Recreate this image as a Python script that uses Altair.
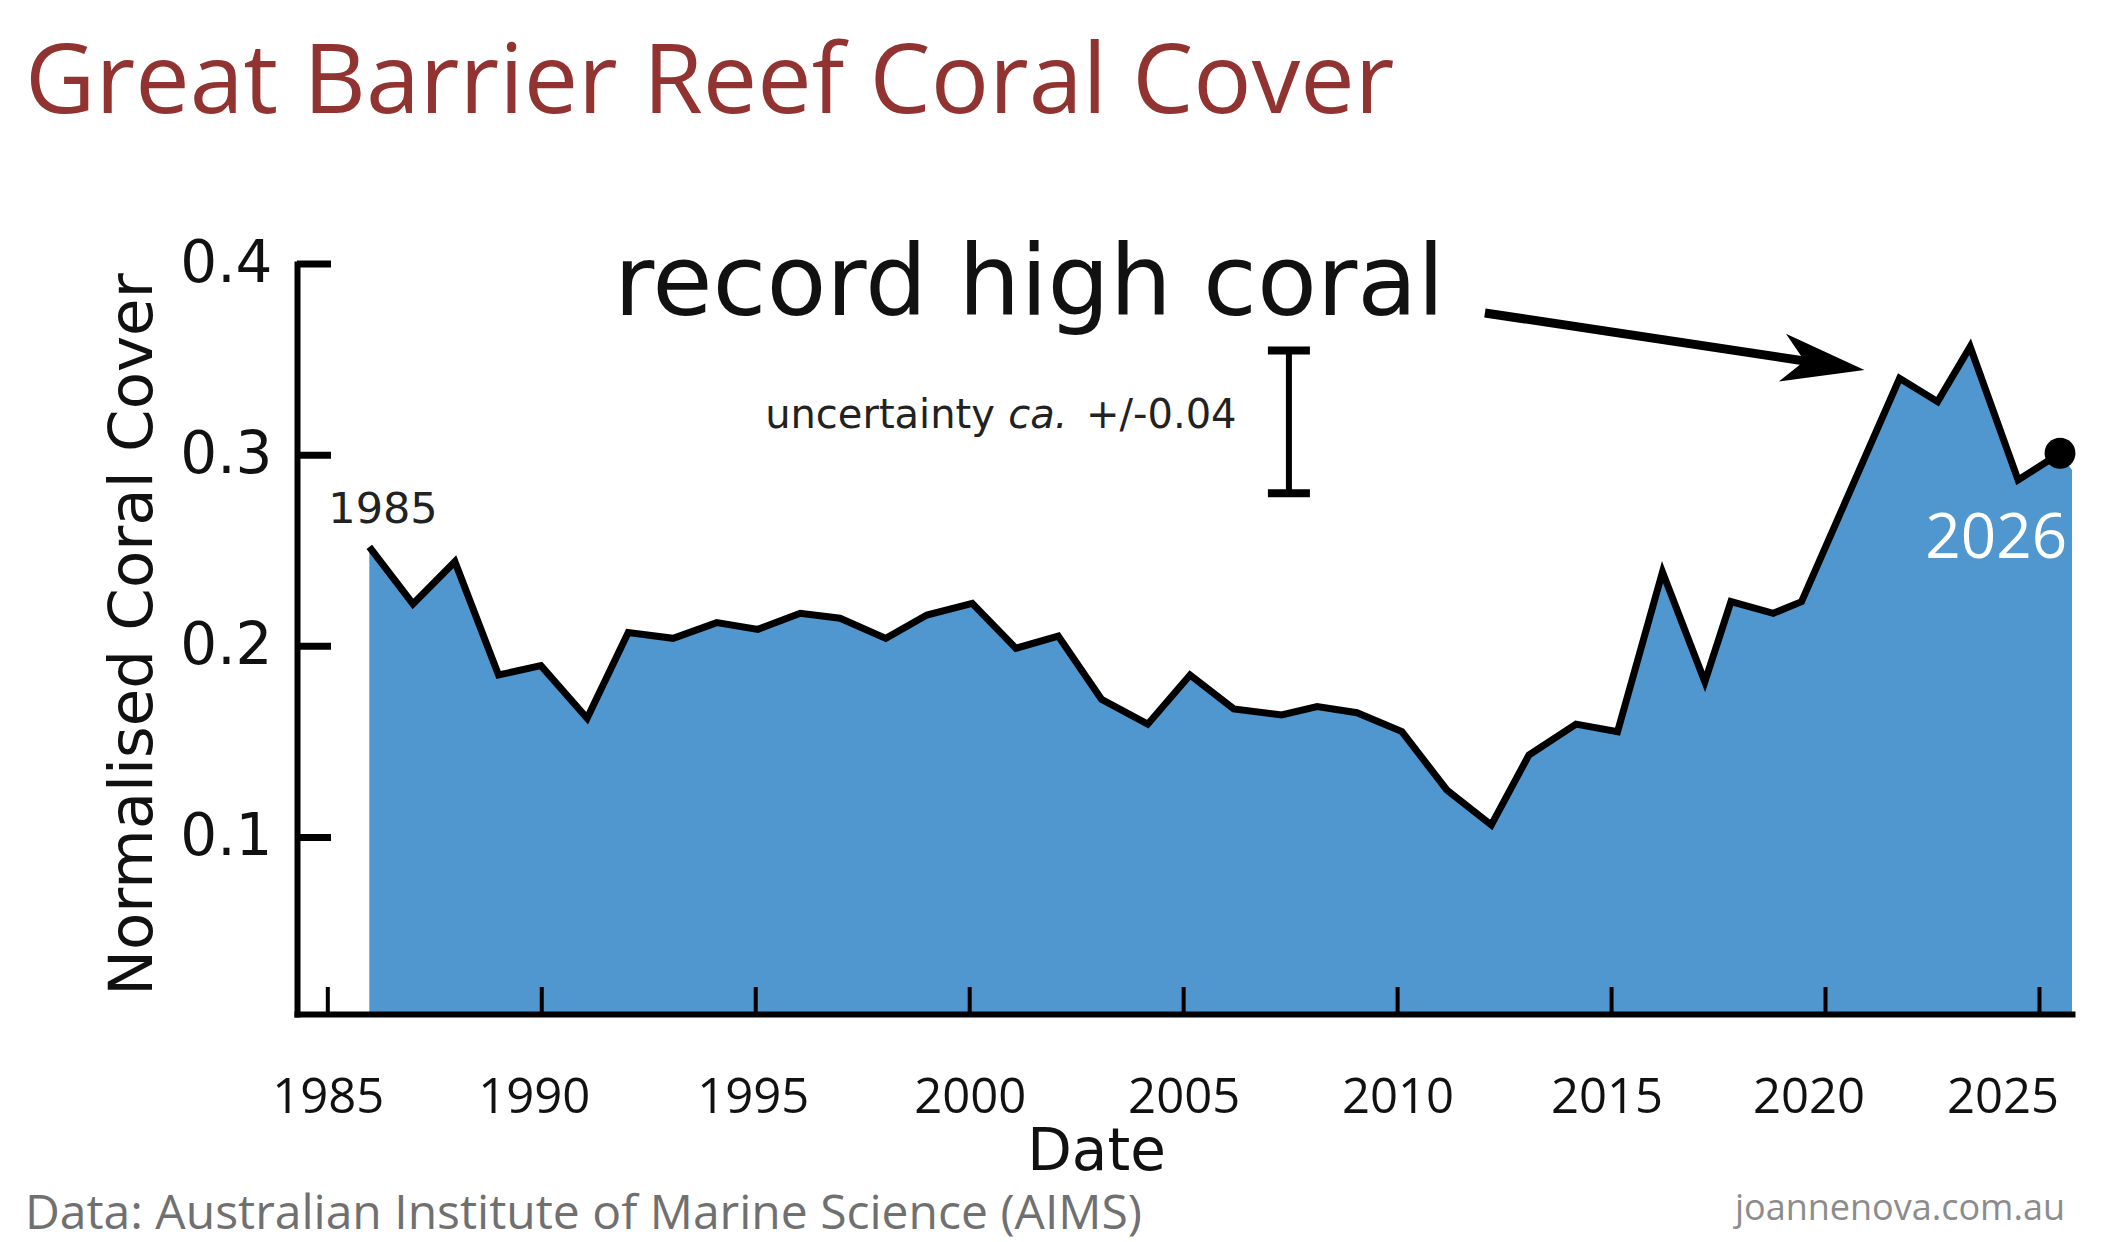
import math
import altair as alt
import pandas as pd

# ---------------- data ----------------
year = [1985.97, 1986.99, 1987.97, 1988.99, 1989.98, 1991.06, 1992.02, 1993.07, 1994.09, 1995.05,
        1996.04, 1996.97, 1998.04, 1999.00, 2000.06, 2001.08, 2002.07, 2003.08, 2004.16, 2005.15,
        2006.17, 2007.29, 2008.12, 2009.05, 2010.10, 2011.15, 2012.19, 2013.07, 2014.17, 2015.14,
        2016.19, 2017.18, 2017.79, 2018.78, 2019.44, 2021.73, 2022.62, 2023.38, 2024.50, 2025.48]
cover = [0.2521, 0.2222, 0.2443, 0.1850, 0.1899, 0.1624, 0.2072, 0.2042, 0.2124, 0.2089,
         0.2173, 0.2147, 0.2042, 0.2164, 0.2225, 0.1990, 0.2054, 0.1723, 0.1593, 0.1850,
         0.1673, 0.1641, 0.1685, 0.1653, 0.1554, 0.1249, 0.1066, 0.1432, 0.1593, 0.1554,
         0.2389, 0.1815, 0.2234, 0.2173, 0.2234, 0.3402, 0.3280, 0.3567, 0.2870, 0.3010]
area_end_year = [2025.76]
area_end_cover = [0.2923]

x_ticks = [1985, 1990, 1995, 2000, 2005, 2010, 2015, 2020, 2025]
y_ticks = [0.1, 0.2, 0.3, 0.4]

# uncertainty bar (centre and half-width)
err_year = [2007.46]
err_center = [0.3174]
err_half = [0.0373]

# arrow (start, tip) in data units
arrow_year = [2012.04, 2020.91]
arrow_cover = [0.3744, 0.3446]

# text annotations anchored in data units
ann_record = ("record high coral", 1991.69, 0.3733)
ann_unc1 = ("uncertainty", 1995.22, 0.3141)
ann_unc2 = ("ca.", 2000.90, 0.3141)
ann_unc3 = ("+/-0.04", 2002.72, 0.3141)
ann_start = ("1985", 1986.29, 0.2646)
ann_end = ("2026", 2023.99, 0.2462)

TITLE = "Great Barrier Reef Coral Cover"
SOURCE = "Data: Australian Institute of Marine Science (AIMS)"
WATERMARK = "joannenova.com.au"

# ---------------- layout / style ----------------
XMIN, XMAX = 1984.28, 2025.76
YMIN, YMAX = 0.0077, 0.4
W, H = 1775, 750
BLUE = "#5096CF"
INK = "#111111"

# small horizontal nudges of some year labels, as in the reference
label_nudge = {1990: -8, 1995: -3, 2015: -5, 2020: -17, 2025: -37}
x_label_offset = {
    "condition": [{"test": f"datum.value == {k}", "value": v} for k, v in label_nudge.items()],
    "value": 0,
}

xs = alt.Scale(domain=[XMIN, XMAX], nice=False, zero=False)
ys = alt.Scale(domain=[YMIN, YMAX], nice=False, zero=False)

x_axis = alt.Axis(values=x_ticks, format="d", ticks=False, tickSize=0, grid=False,
                  labelFont="Open Sans", labelFontSize=49, labelColor=INK,
                  labelPadding=98, labelBaseline="alphabetic", labelFlush=False,
                  labelOverlap=False, labelOffset=x_label_offset,
                  domainColor="black", domainWidth=6, domainCap="square",
                  title="Date", titleFont="DejaVu Sans", titleFontSize=58,
                  titleFontWeight="normal", titleColor=INK, titleX=799, titleY=155,
                  titleAlign="center", titleBaseline="alphabetic", zindex=1)
y_axis = alt.Axis(values=y_ticks, format=".1f", ticks=False, tickSize=0, grid=False,
                  labelFont="DejaVu Sans", labelFontSize=58, labelColor=INK,
                  labelPadding=25, labelFlush=False, labelOverlap=False,
                  domainColor="black", domainWidth=6, domainCap="square",
                  title="Normalised Coral Cover", titleFont="DejaVu Sans", titleFontSize=61,
                  titleFontWeight="normal", titleColor=INK, titleX=-146, titleY=370,
                  titleAngle=270, titleAlign="center", titleBaseline="alphabetic", zindex=1)


def X(field):
    return alt.X(field, scale=xs, axis=x_axis)


def Y(field):
    return alt.Y(field, scale=ys, axis=y_axis)


series = pd.DataFrame({"year": year, "cover": cover})
area_df = pd.DataFrame({"year": year + area_end_year, "cover": cover + area_end_cover})

area = alt.Chart(area_df).mark_area(color=BLUE, opacity=1, clip=True).encode(
    x=X("year:Q"), y=Y("cover:Q"))

line = alt.Chart(series).mark_line(color="black", strokeWidth=7, strokeJoin="miter",
                                   strokeMiterLimit=6).encode(x=X("year:Q"), y=Y("cover:Q"))

last = pd.DataFrame({"year": year[-1:], "cover": cover[-1:]})
dot = alt.Chart(last).mark_circle(size=950, color="black", opacity=1).encode(
    x=X("year:Q"), y=Y("cover:Q"))

ytick_marks = alt.Chart(pd.DataFrame({"cover": y_ticks})).mark_rule(color="black", strokeWidth=7).encode(
    y=Y("cover:Q"), x=alt.value(0), x2=alt.value(34))
xtick_marks = alt.Chart(pd.DataFrame({"year": x_ticks})).mark_rule(color="black", strokeWidth=4).encode(
    x=X("year:Q"), y=alt.value(H), y2=alt.value(H - 27))

err_df = pd.DataFrame({"year": err_year, "cover": [c - h for c, h in zip(err_center, err_half)],
                       "hi": [c + h for c, h in zip(err_center, err_half)]})
err_rule = alt.Chart(err_df).mark_rule(color="black", strokeWidth=6).encode(
    x=X("year:Q"), y=Y("cover:Q"), y2="hi:Q")
caps_df = pd.DataFrame({"year": err_year * 2, "cover": list(err_df["cover"]) + list(err_df["hi"])})
err_caps = alt.Chart(caps_df).mark_tick(orient="horizontal", size=42, thickness=8,
                                        color="black", opacity=1).encode(
    x=X("year:Q"), y=Y("cover:Q"))

# arrow
px_year = W / (XMAX - XMIN)
px_unit = H / (YMAX - YMIN)
ang = math.degrees(math.atan2((arrow_cover[0] - arrow_cover[1]) * px_unit,
                              (arrow_year[1] - arrow_year[0]) * px_year))
shaft_df = pd.DataFrame({"year": [arrow_year[0]], "cover": [arrow_cover[0]],
                         "x2": [arrow_year[0] + 0.9 * (arrow_year[1] - arrow_year[0])],
                         "y2": [arrow_cover[0] + 0.9 * (arrow_cover[1] - arrow_cover[0])]})
shaft = alt.Chart(shaft_df).mark_rule(color="black", strokeWidth=9).encode(
    x=X("year:Q"), y=Y("cover:Q"), x2="x2:Q", y2="y2:Q")
head_df = pd.DataFrame({"year": [arrow_year[1]], "cover": [arrow_cover[1]]})
head = alt.Chart(head_df).mark_point(shape="M0,0L-1,-0.29L-0.73,0L-1,0.29Z", filled=True,
                                     size=27556, angle=ang, color="black", opacity=1,
                                     strokeWidth=0).encode(x=X("year:Q"), y=Y("cover:Q"))


def ann(a, **kw):
    df = pd.DataFrame({"label": [a[0]], "year": [a[1]], "cover": [a[2]]})
    return alt.Chart(df).mark_text(baseline="alphabetic", **kw).encode(
        x=X("year:Q"), y=Y("cover:Q"), text="label:N")


t_record = ann(ann_record, align="left", font="DejaVu Sans", fontSize=98, color=INK)
t_u1 = ann(ann_unc1, align="left", font="DejaVu Sans", fontSize=40, color="#222222")
t_u2 = ann(ann_unc2, align="left", font="DejaVu Sans", fontSize=40, fontStyle="italic", color="#222222")
t_u3 = ann(ann_unc3, align="left", font="DejaVu Sans", fontSize=40, color="#222222")
t_start = ann(ann_start, align="center", font="DejaVu Sans", fontSize=43, color="#222222")
t_end = ann(ann_end, align="center", font="Open Sans", fontSize=62, color="white")


def free_text(label, px, py, **kw):
    return alt.Chart(pd.DataFrame({"label": [label]})).mark_text(baseline="alphabetic", **kw).encode(
        text="label:N", x=alt.value(px), y=alt.value(py))


t_title = free_text(TITLE, -272, -151, align="left", font="Open Sans", fontSize=97, color="#913330")
t_source = free_text(SOURCE, -272, 965, align="left", font="Open Sans", fontSize=48, color="#707070")
t_mark = free_text(WATERMARK, 1768, 956, align="right", font="Open Sans", fontSize=36, color="#8c8c8c")

chart = alt.layer(
    area, line, dot, ytick_marks, xtick_marks, err_rule, err_caps, shaft, head,
    t_record, t_u1, t_u2, t_u3, t_start, t_end, t_title, t_source, t_mark,
).properties(
    width=W, height=H,
    autosize=alt.AutoSizeParams(type="none"),
    padding={"left": 289, "top": 256, "right": 40, "bottom": 228},
    background="white",
).configure_view(stroke=None)

chart.save("out.html", embed_options={"renderer": "svg", "actions": False})
